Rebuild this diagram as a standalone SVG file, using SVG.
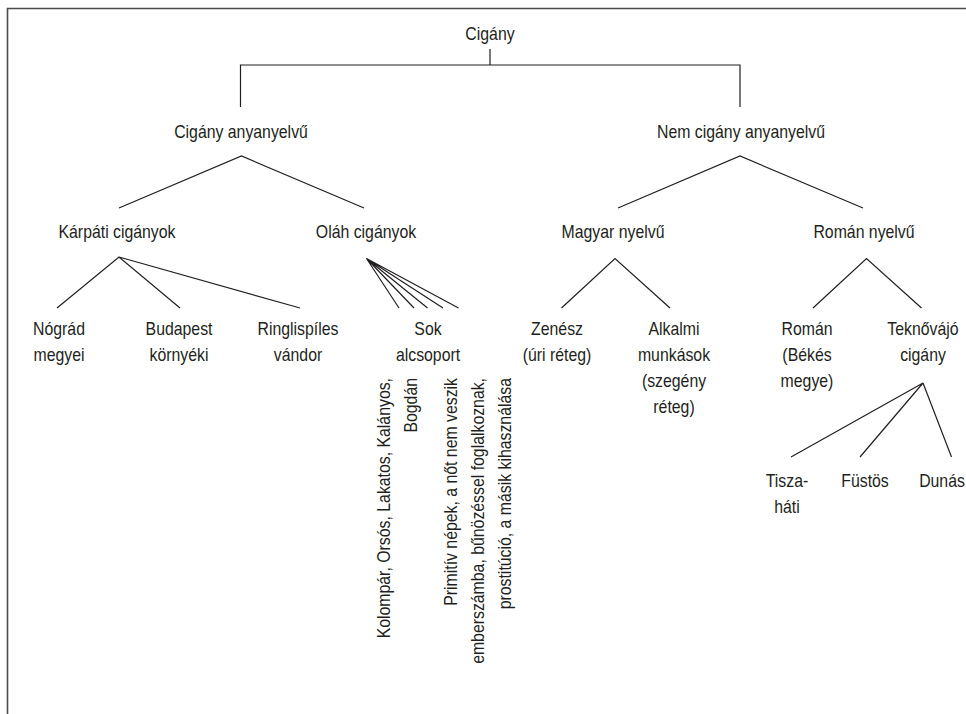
<svg xmlns="http://www.w3.org/2000/svg" width="966" height="714" viewBox="0 0 966 714">
<style>
text{font-family:"Liberation Sans",Arial,sans-serif;font-size:18px;fill:#231f20;text-anchor:middle}
.rot{text-anchor:end}
.c{fill:none;stroke:#231f20;stroke-width:1.2}
.frame{fill:none;stroke:#4a4a4a;stroke-width:1.6}
</style>
<rect width="966" height="714" fill="#fff"/>
<path class="frame" d="M7.5,714 V8.5 H966"/>
<g id="connectors">
<path class="c" d="M490,49 V65 M240.5,107 V65 H740 V107"/>
<path class="c" d="M119,208 L241.5,156 L364,208"/>
<path class="c" d="M618,208 L740,156 L863,208"/>
<path class="c" d="M57,308 L119,257 L180,308 M119,257 L300,308"/>
<path class="c" d="M399,308 L366.5,258.5 L414,308 M366.5,258.5 L427.5,308 M366.5,258.5 L443,308 M366.5,258.5 L458.5,308"/>
<path class="c" d="M561.5,308 L615,258.5 L670,308"/>
<path class="c" d="M813,308 L866.5,258.5 L921.5,308"/>
<path class="c" d="M791,457 L923,383 L860,457 M923,383 L951.5,457"/>
</g>
<g id="n-cigany"><text transform="translate(490,40) scale(0.88,1)">Cigány</text></g>
<g id="n-cigany-anyanyelvu"><text transform="translate(241,138) scale(0.88,1)">Cigány anyanyelvű</text></g>
<g id="n-nem-cigany"><text transform="translate(741,138) scale(0.88,1)">Nem cigány anyanyelvű</text></g>
<g id="n-karpati"><text transform="translate(117,238) scale(0.88,1)">Kárpáti cigányok</text></g>
<g id="n-olah"><text transform="translate(366,238) scale(0.88,1)">Oláh cigányok</text></g>
<g id="n-magyar"><text transform="translate(613,238) scale(0.88,1)">Magyar nyelvű</text></g>
<g id="n-roman-nyelvu"><text transform="translate(864,238) scale(0.88,1)">Román nyelvű</text></g>
<g id="n-nograd"><text transform="translate(59,335) scale(0.88,1)">Nógrád</text><text transform="translate(59,361) scale(0.88,1)">megyei</text></g>
<g id="n-budapest"><text transform="translate(179,335) scale(0.88,1)">Budapest</text><text transform="translate(179,361) scale(0.88,1)">környéki</text></g>
<g id="n-ringlispiles"><text transform="translate(298,335) scale(0.88,1)">Ringlispíles</text><text transform="translate(298,361) scale(0.88,1)">vándor</text></g>
<g id="n-sok"><text transform="translate(428,335) scale(0.88,1)">Sok</text><text transform="translate(428,361) scale(0.88,1)">alcsoport</text></g>
<g id="n-zenesz"><text transform="translate(557,335) scale(0.88,1)">Zenész</text><text transform="translate(557,361) scale(0.88,1)">(úri réteg)</text></g>
<g id="n-alkalmi"><text transform="translate(674,335) scale(0.88,1)">Alkalmi</text><text transform="translate(674,361) scale(0.88,1)">munkások</text><text transform="translate(674,387) scale(0.88,1)">(szegény</text><text transform="translate(674,413) scale(0.88,1)">réteg)</text></g>
<g id="n-roman"><text transform="translate(807,335) scale(0.88,1)">Román</text><text transform="translate(807,361) scale(0.88,1)">(Békés</text><text transform="translate(807,387) scale(0.88,1)">megye)</text></g>
<g id="n-teknovajo"><text transform="translate(923,335) scale(0.88,1)">Teknővájó</text><text transform="translate(923,361) scale(0.88,1)">cigány</text></g>
<g id="n-tiszahati"><text transform="translate(787,487) scale(0.88,1)">Tisza-</text><text transform="translate(787,513) scale(0.88,1)">háti</text></g>
<g id="n-fustos"><text transform="translate(865,487) scale(0.88,1)">Füstös</text></g>
<g id="n-dunas"><text transform="translate(942,487) scale(0.88,1)">Dunás</text></g>
<g id="n-alcsoportok">
<text class="rot" transform="translate(390,378) rotate(-90) scale(0.88,1)">Kolompár, Orsós, Lakatos, Kalányos,</text>
<text class="rot" transform="translate(417,378) rotate(-90) scale(0.88,1)">Bogdán</text>
</g>
<g id="n-leiras">
<text class="rot" transform="translate(457,378) rotate(-90) scale(0.88,1)">Primitív népek, a nőt nem veszik</text>
<text class="rot" transform="translate(484,378) rotate(-90) scale(0.88,1)">emberszámba, bűnözéssel foglalkoznak,</text>
<text class="rot" transform="translate(511,378) rotate(-90) scale(0.88,1)">prostitúció, a másik kihasználása</text>
</g>
</svg>
